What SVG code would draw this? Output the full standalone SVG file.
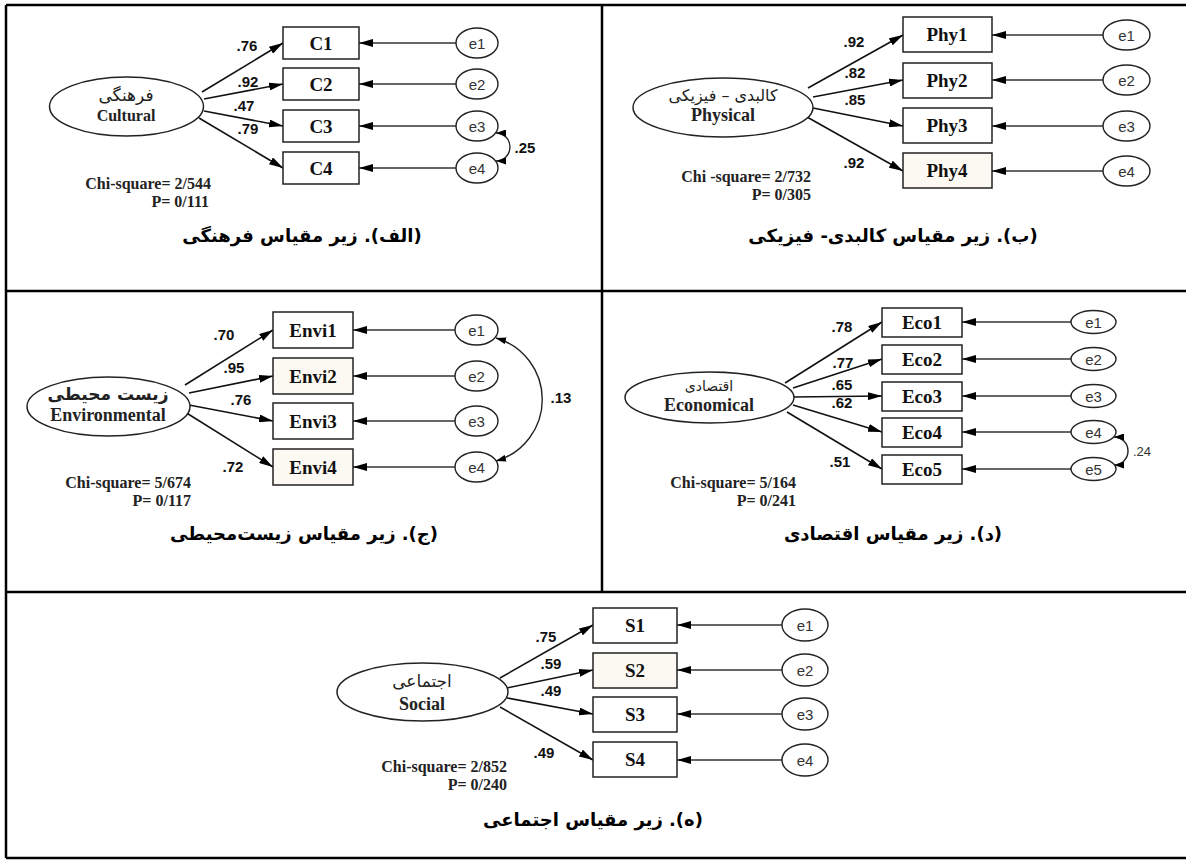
<svg xmlns="http://www.w3.org/2000/svg" width="1186" height="860" viewBox="0 0 1186 860">
<defs>
<style>
.bx{fill:#fff;stroke:#222;stroke-width:1.5}
.bc{fill:#fcf9f3;stroke:#222;stroke-width:1.5}
.lat{fill:#fff;stroke:#222;stroke-width:1.5}
.err{fill:#fff;stroke:#222;stroke-width:1.4}
.ld{stroke:#111;stroke-width:1.6;fill:none;marker-end:url(#ah)}
.el{stroke:#333;stroke-width:1.3;fill:none;marker-end:url(#ah)}
.cv{stroke:#222;stroke-width:1.4;fill:none;marker-start:url(#ahs);marker-end:url(#ahs)}
.bl{font-family:"Liberation Serif",serif;font-weight:bold;font-size:19px;text-anchor:middle;fill:#111}
.ll{font-family:"Liberation Serif",serif;font-weight:bold;font-size:18px;text-anchor:middle;fill:#222}
.fa{font-family:"DejaVu Sans",sans-serif;font-size:16px;text-anchor:middle;fill:#222}
.w{font-family:"Liberation Sans",Arial,sans-serif;font-weight:bold;font-size:15px;text-anchor:middle;fill:#111}
.e{font-family:"Liberation Sans",Arial,sans-serif;font-size:15px;text-anchor:middle;fill:#333}
.chi{font-family:"Liberation Serif",serif;font-weight:bold;font-size:16px;text-anchor:end;fill:#222}
.cap{font-family:"DejaVu Sans",sans-serif;font-weight:bold;font-size:18px;text-anchor:middle;fill:#000}
.tb{stroke:#000;stroke-width:2.5;fill:none}
</style>
<marker id="ah" viewBox="0 0 14 8" refX="14" refY="4" markerWidth="14" markerHeight="8" markerUnits="userSpaceOnUse" orient="auto-start-reverse"><path d="M0,0 L14,4 L0,8 z" fill="#000"/></marker>
<marker id="ahs" viewBox="0 0 10 7" refX="10" refY="3.5" markerWidth="10" markerHeight="7" markerUnits="userSpaceOnUse" orient="auto-start-reverse"><path d="M0,0 L10,3.5 L0,7 z" fill="#000"/></marker>
</defs>
<rect width="1186" height="860" fill="#fff"/>
<g id="table">
<path class="tb" d="M6,5 H1186 M6,5 V858 M6,858 H1186 M6,291 H1186 M6,592 H1186 M602,5 V592"/>
</g>
<g id="connectors">
<line class="ld" x1="202" y1="92" x2="283" y2="43"/>
<line class="ld" x1="204" y1="99" x2="283" y2="84"/>
<line class="ld" x1="204" y1="111" x2="283" y2="126"/>
<line class="ld" x1="199" y1="118" x2="283" y2="168"/>
<line class="el" x1="456" y1="43" x2="359" y2="43"/>
<line class="el" x1="456" y1="84" x2="359" y2="84"/>
<line class="el" x1="456" y1="126" x2="359" y2="126"/>
<line class="el" x1="456" y1="168" x2="359" y2="168"/>
<path class="cv" d="M496,133 A14,14 0 0 1 496,161"/>
<line class="ld" x1="808" y1="88" x2="903" y2="35"/>
<line class="ld" x1="813" y1="97" x2="903" y2="80"/>
<line class="ld" x1="813" y1="108" x2="903" y2="126"/>
<line class="ld" x1="807" y1="117" x2="903" y2="171"/>
<line class="el" x1="1103" y1="35" x2="992" y2="35"/>
<line class="el" x1="1103" y1="80" x2="992" y2="80"/>
<line class="el" x1="1103" y1="126" x2="992" y2="126"/>
<line class="el" x1="1103" y1="171" x2="992" y2="171"/>
<line class="ld" x1="185" y1="385" x2="273" y2="330"/>
<line class="ld" x1="189" y1="393" x2="273" y2="376"/>
<line class="ld" x1="189" y1="405" x2="273" y2="421"/>
<line class="ld" x1="185" y1="412" x2="273" y2="467"/>
<line class="el" x1="455" y1="330" x2="353" y2="330"/>
<line class="el" x1="455" y1="376" x2="353" y2="376"/>
<line class="el" x1="455" y1="421" x2="353" y2="421"/>
<line class="el" x1="455" y1="467" x2="353" y2="467"/>
<path class="cv" d="M496,338 A64,64 0 0 1 496,461"/>
<line class="ld" x1="785" y1="383" x2="882" y2="322"/>
<line class="ld" x1="793" y1="388" x2="882" y2="359"/>
<line class="ld" x1="793" y1="397" x2="882" y2="396"/>
<line class="ld" x1="793" y1="405" x2="882" y2="432"/>
<line class="ld" x1="787" y1="412" x2="882" y2="469"/>
<line class="el" x1="1071" y1="322" x2="962" y2="322"/>
<line class="el" x1="1071" y1="359" x2="962" y2="359"/>
<line class="el" x1="1071" y1="396" x2="962" y2="396"/>
<line class="el" x1="1071" y1="432" x2="962" y2="432"/>
<line class="el" x1="1071" y1="469" x2="962" y2="469"/>
<path class="cv" d="M1114,437 A14,14 0 0 1 1114,465"/>
<line class="ld" x1="500" y1="678" x2="593" y2="625"/>
<line class="ld" x1="507" y1="688" x2="593" y2="670"/>
<line class="ld" x1="507" y1="698" x2="593" y2="714"/>
<line class="ld" x1="500" y1="707" x2="593" y2="760"/>
<line class="el" x1="782" y1="625" x2="677" y2="625"/>
<line class="el" x1="782" y1="670" x2="677" y2="670"/>
<line class="el" x1="782" y1="714" x2="677" y2="714"/>
<line class="el" x1="782" y1="760" x2="677" y2="760"/>
</g>
<g id="labels">
<text class="w" x="247" y="51">.76</text>
<text class="w" x="248" y="87">.92</text>
<text class="w" x="244" y="111">.47</text>
<text class="w" x="248" y="134">.79</text>
<text class="w" x="525" y="153">.25</text>
<text class="w" x="854" y="47">.92</text>
<text class="w" x="855" y="78">.82</text>
<text class="w" x="855" y="105">.85</text>
<text class="w" x="854" y="168">.92</text>
<text class="w" x="224" y="340">.70</text>
<text class="w" x="234" y="373">.95</text>
<text class="w" x="241" y="405">.76</text>
<text class="w" x="233" y="472">.72</text>
<text class="w" x="561" y="403">.13</text>
<text class="w" x="842" y="332">.78</text>
<text class="w" x="843" y="368">.77</text>
<text class="w" x="842" y="390">.65</text>
<text class="w" x="842" y="408">.62</text>
<text class="w" x="840" y="467">.51</text>
<text class="e" x="1142" y="456" style="font-size:13px">.24</text>
<text class="w" x="546" y="642">.75</text>
<text class="w" x="551" y="669">.59</text>
<text class="w" x="551" y="696">.49</text>
<text class="w" x="544" y="758">.49</text>
</g>
<g id="panelA">
<g id="latCultural"><ellipse class="lat" cx="126.5" cy="106.5" rx="77" ry="29.5"/><text class="fa" x="126" y="101" style="font-size:17px">فرهنگی</text><text class="ll" x="126" y="121" style="font-size:16px">Cultural</text></g>
<g id="C1"><rect class="bx" x="283" y="27" width="76" height="32"/><text class="bl" x="321" y="49.5">C1</text></g>
<g id="C2"><rect class="bx" x="283" y="68" width="76" height="32"/><text class="bl" x="321" y="90.5">C2</text></g>
<g id="C3"><rect class="bx" x="283" y="110" width="76" height="32"/><text class="bl" x="321" y="132.5">C3</text></g>
<g id="C4"><rect class="bx" x="283" y="152" width="76" height="32"/><text class="bl" x="321" y="174.5">C4</text></g>
<g id="Ae1"><ellipse class="err" cx="477" cy="43" rx="21" ry="15"/><text class="e" x="477" y="48.5">e1</text></g>
<g id="Ae2"><ellipse class="err" cx="477" cy="84" rx="21" ry="15"/><text class="e" x="477" y="89.5">e2</text></g>
<g id="Ae3"><ellipse class="err" cx="477" cy="126" rx="21" ry="15"/><text class="e" x="477" y="131.5">e3</text></g>
<g id="Ae4"><ellipse class="err" cx="477" cy="168" rx="21" ry="15"/><text class="e" x="477" y="173.5">e4</text></g>
<text class="chi" x="211" y="189">Chi-square= 2/544</text>
<text class="chi" x="209" y="207">P= 0/111</text>
<text class="cap" x="302" y="242" direction="rtl">(الف). زیر مقیاس فرهنگی</text>
</g>
<g id="panelB">
<g id="latPhysical"><ellipse class="lat" cx="723" cy="107.5" rx="90" ry="29.5"/><text class="fa" x="723" y="101">کالبدی – فیزیکی</text><text class="ll" x="723" y="121">Physical</text></g>
<g id="Phy1"><rect class="bx" x="903" y="17" width="89" height="35"/><text class="bl" x="947" y="41">Phy1</text></g>
<g id="Phy2"><rect class="bx" x="903" y="63" width="89" height="35"/><text class="bl" x="947" y="87">Phy2</text></g>
<g id="Phy3"><rect class="bx" x="903" y="108" width="89" height="35"/><text class="bl" x="947" y="132">Phy3</text></g>
<g id="Phy4"><rect class="bc" x="903" y="153" width="89" height="35"/><text class="bl" x="947" y="177">Phy4</text></g>
<g id="Be1"><ellipse class="err" cx="1126.5" cy="35" rx="23.5" ry="15"/><text class="e" x="1126.5" y="40.5">e1</text></g>
<g id="Be2"><ellipse class="err" cx="1126.5" cy="80" rx="23.5" ry="15"/><text class="e" x="1126.5" y="85.5">e2</text></g>
<g id="Be3"><ellipse class="err" cx="1126.5" cy="126" rx="23.5" ry="15"/><text class="e" x="1126.5" y="131.5">e3</text></g>
<g id="Be4"><ellipse class="err" cx="1126.5" cy="171" rx="23.5" ry="15"/><text class="e" x="1126.5" y="176.5">e4</text></g>
<text class="chi" x="811" y="182">Chi -square= 2/732</text>
<text class="chi" x="811" y="200">P= 0/305</text>
<text class="cap" x="893" y="242" direction="rtl">(ب). زیر مقیاس کالبدی- فیزیکی</text>
</g>
<g id="panelC">
<g id="latEnv"><ellipse class="lat" cx="108.5" cy="406.5" rx="81.5" ry="29.5"/><text class="fa" x="108" y="400" style="font-size:17px;font-weight:bold">زیست محیطی</text><text class="ll" x="108" y="421">Environmental</text></g>
<g id="Envi1"><rect class="bx" x="273" y="312" width="80" height="36"/><text class="bl" x="313" y="336.5">Envi1</text></g>
<g id="Envi2"><rect class="bc" x="273" y="358" width="80" height="36"/><text class="bl" x="313" y="382.5">Envi2</text></g>
<g id="Envi3"><rect class="bx" x="273" y="403" width="80" height="36"/><text class="bl" x="313" y="427.5">Envi3</text></g>
<g id="Envi4"><rect class="bc" x="273" y="449" width="80" height="36"/><text class="bl" x="313" y="473.5">Envi4</text></g>
<g id="Ce1"><ellipse class="err" cx="476.5" cy="330" rx="21.5" ry="15"/><text class="e" x="476.5" y="335.5">e1</text></g>
<g id="Ce2"><ellipse class="err" cx="476.5" cy="376" rx="21.5" ry="15"/><text class="e" x="476.5" y="381.5">e2</text></g>
<g id="Ce3"><ellipse class="err" cx="476.5" cy="421" rx="21.5" ry="15"/><text class="e" x="476.5" y="426.5">e3</text></g>
<g id="Ce4"><ellipse class="err" cx="476.5" cy="467" rx="21.5" ry="15"/><text class="e" x="476.5" y="472.5">e4</text></g>
<text class="chi" x="191" y="488">Chi-square= 5/674</text>
<text class="chi" x="191" y="506">P= 0/117</text>
<text class="cap" x="304" y="540" direction="rtl">(ج). زیر مقیاس زیست‌محیطی</text>
</g>
<g id="panelD">
<g id="latEco"><ellipse class="lat" cx="709.5" cy="397.5" rx="84.5" ry="25.5"/><text class="fa" x="709" y="391" style="font-size:14px">اقتصادی</text><text class="ll" x="709" y="411">Economical</text></g>
<g id="Eco1"><rect class="bx" x="882" y="308" width="80" height="29"/><text class="bl" x="922" y="329">Eco1</text></g>
<g id="Eco2"><rect class="bx" x="882" y="345" width="80" height="29"/><text class="bl" x="922" y="366">Eco2</text></g>
<g id="Eco3"><rect class="bx" x="882" y="382" width="80" height="29"/><text class="bl" x="922" y="403">Eco3</text></g>
<g id="Eco4"><rect class="bx" x="882" y="418" width="80" height="29"/><text class="bl" x="922" y="439">Eco4</text></g>
<g id="Eco5"><rect class="bx" x="882" y="455" width="80" height="29"/><text class="bl" x="922" y="476">Eco5</text></g>
<g id="De1"><ellipse class="err" cx="1093.5" cy="322" rx="22.5" ry="11.5"/><text class="e" x="1093.5" y="327.5">e1</text></g>
<g id="De2"><ellipse class="err" cx="1093.5" cy="359" rx="22.5" ry="11.5"/><text class="e" x="1093.5" y="364.5">e2</text></g>
<g id="De3"><ellipse class="err" cx="1093.5" cy="396" rx="22.5" ry="11.5"/><text class="e" x="1093.5" y="401.5">e3</text></g>
<g id="De4"><ellipse class="err" cx="1093.5" cy="432" rx="22.5" ry="11.5"/><text class="e" x="1093.5" y="437.5">e4</text></g>
<g id="De5"><ellipse class="err" cx="1093.5" cy="469" rx="22.5" ry="11.5"/><text class="e" x="1093.5" y="474.5">e5</text></g>
<text class="chi" x="796" y="488">Chi-square= 5/164</text>
<text class="chi" x="796" y="506">P= 0/241</text>
<text class="cap" x="893" y="540" direction="rtl">(د). زیر مقیاس اقتصادی</text>
</g>
<g id="panelE">
<g id="latSocial"><ellipse class="lat" cx="422.5" cy="692" rx="85.5" ry="29"/><text class="fa" x="422" y="687" style="font-size:17px">اجتماعی</text><text class="ll" x="422" y="710">Social</text></g>
<g id="S1"><rect class="bx" x="593" y="608" width="84" height="35"/><text class="bl" x="635" y="632">S1</text></g>
<g id="S2"><rect class="bc" x="593" y="653" width="84" height="35"/><text class="bl" x="635" y="677">S2</text></g>
<g id="S3"><rect class="bx" x="593" y="697" width="84" height="35"/><text class="bl" x="635" y="721">S3</text></g>
<g id="S4"><rect class="bx" x="593" y="742" width="84" height="35"/><text class="bl" x="635" y="766">S4</text></g>
<g id="Ee1"><ellipse class="err" cx="805" cy="625" rx="23" ry="16"/><text class="e" x="805" y="630.5">e1</text></g>
<g id="Ee2"><ellipse class="err" cx="805" cy="670" rx="23" ry="16"/><text class="e" x="805" y="675.5">e2</text></g>
<g id="Ee3"><ellipse class="err" cx="805" cy="714" rx="23" ry="16"/><text class="e" x="805" y="719.5">e3</text></g>
<g id="Ee4"><ellipse class="err" cx="805" cy="760" rx="23" ry="16"/><text class="e" x="805" y="765.5">e4</text></g>
<text class="chi" x="507" y="772">Chi-square= 2/852</text>
<text class="chi" x="507" y="790">P= 0/240</text>
<text class="cap" x="593" y="826" direction="rtl">(ه). زیر مقیاس اجتماعی</text>
</g>
</svg>
